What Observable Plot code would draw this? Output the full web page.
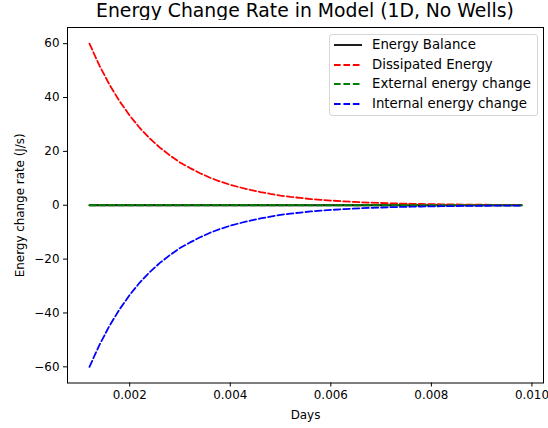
<!DOCTYPE html>
<html>
<head>
<meta charset="utf-8">
<script src="https://cdn.jsdelivr.net/npm/d3@7"></script>
<script src="https://cdn.jsdelivr.net/npm/@observablehq/plot@0.6"></script>
<style>
  html, body { margin: 0; padding: 0; background: #fff; }
  #wrap { position: relative; width: 548px; height: 428px; font-family: "DejaVu Sans", sans-serif; }
  #title { position: absolute; left: 17px; width: 576px; top: 0px; text-align: center; font-size: 18.8px; line-height: 22px; color: #000; white-space: nowrap; }
  #chart { position: absolute; left: 0; top: 20px; }
  #legend { position: absolute; left: 329px; top: 34px; width: 207px; height: 80px; border: 1px solid #d6d6d6; border-radius: 3px; background: rgba(255,255,255,0.8); }
  .row { position: absolute; left: 0; height: 20px; width: 207px; }
  .row svg { position: absolute; left: 4px; top: 0; }
  .row span { position: absolute; left: 42px; top: 2px; font-size: 13.3px; line-height: 16px; color: #000; white-space: nowrap; }
</style>
</head>
<body>
<div id="wrap">
  <div id="title">Energy Change Rate in Model (1D, No Wells)</div>
  <div id="chart"></div>
  <div id="legend"></div>
</div>
<script>
// Data
const days = [0.0012,0.0014,0.0016,0.0018,0.0020,0.0022,0.0024,0.0026,0.0028,0.0030,
  0.0032,0.0034,0.0036,0.0038,0.0040,0.0042,0.0044,0.0046,0.0048,0.0050,
  0.0052,0.0054,0.0056,0.0058,0.0060,0.0062,0.0064,0.0066,0.0068,0.0070,
  0.0072,0.0074,0.0076,0.0078,0.0080,0.0082,0.0084,0.0086,0.0088,0.0090,
  0.0092,0.0094,0.0096,0.0098];
const dissipated = [60,51.8,44.7,38.6,33.3,28.7,24.8,21.4,18.5,15.9,
  13.8,11.9,10.2,8.8,7.6,6.6,5.7,4.9,4.2,3.6,
  3.1,2.7,2.3,2.0,1.75,1.5,1.3,1.12,0.97,0.84,
  0.72,0.62,0.54,0.46,0.40,0.35,0.30,0.26,0.22,0.19,
  0.16,0.14,0.12,0.10];
const internal = [-60,-51.8,-44.7,-38.6,-33.3,-28.7,-24.8,-21.4,-18.5,-15.9,
  -13.8,-11.9,-10.2,-8.8,-7.6,-6.6,-5.7,-4.9,-4.2,-3.6,
  -3.1,-2.7,-2.3,-2.0,-1.75,-1.5,-1.3,-1.12,-0.97,-0.84,
  -0.72,-0.62,-0.54,-0.46,-0.40,-0.35,-0.30,-0.26,-0.22,-0.19,
  -0.16,-0.14,-0.12,-0.10];
const balance = days.map(() => 0);
const external = days.map(() => 0);
const xTicks = [0.002,0.004,0.006,0.008,0.010];
const yTicks = [-60,-40,-20,0,20,40,60];
const seriesNames = ["Energy Balance","Dissipated Energy","External energy change","Internal energy change"];
const seriesColors = ["black","red","green","blue"];
const seriesValues = [balance, dissipated, external, internal];
const seriesDashed = [false, true, true, true];

const rows = [];
seriesNames.forEach((name, s) => {
  days.forEach((d, i) => rows.push({series: name, day: d, value: seriesValues[s][i]}));
});

const fmtY = d => d < 0 ? "\u2212" + Math.abs(d) : String(d);
const LW = 1.78, DASH = "6.6,2.85";

const marks = [];
seriesNames.forEach((name, s) => {
  marks.push(Plot.line(rows.filter(r => r.series === name), {
    x: "day", y: "value", stroke: seriesColors[s], strokeWidth: LW,
    strokeDasharray: seriesDashed[s] ? DASH : null
  }));
});

const chart = Plot.plot({
  width: 548, height: 408,
  marginLeft: 67, marginRight: 5, marginTop: 7, marginBottom: 45.5,
  style: {fontFamily: "DejaVu Sans, sans-serif", fontSize: "11.9px", color: "black", background: "white"},
  x: {domain: [0.000763, 0.01023]},
  y: {domain: [-66, 66]},
  marks: [
    ...marks,
    Plot.frame({stroke: "black", strokeWidth: 1}),
    Plot.axisX({ticks: xTicks, tickFormat: d => d.toFixed(3), tickSize: 4, tickPadding: 4,
      fontSize: 11.9, label: "Days", labelAnchor: "center", labelArrow: "none", labelOffset: 36}),
    Plot.axisY({ticks: yTicks, tickFormat: fmtY, tickSize: 4, tickPadding: 4,
      fontSize: 11.9, label: "Energy change rate (J/s)", labelAnchor: "center", labelArrow: "none", labelOffset: 52})
  ]
});
document.getElementById("chart").appendChild(chart);

const legend = document.getElementById("legend");
seriesNames.forEach((name, s) => {
  const row = document.createElement("div");
  row.className = "row";
  row.style.top = (s * 19.5) + "px";
  row.innerHTML = `<svg width="30" height="20"><line x1="0" x2="28" y1="10" y2="10" stroke="${seriesColors[s]}" stroke-width="${LW}" ${seriesDashed[s] ? `stroke-dasharray="${DASH}"` : ""}/></svg><span>${name}</span>`;
  legend.appendChild(row);
});
</script>
</body>
</html>
